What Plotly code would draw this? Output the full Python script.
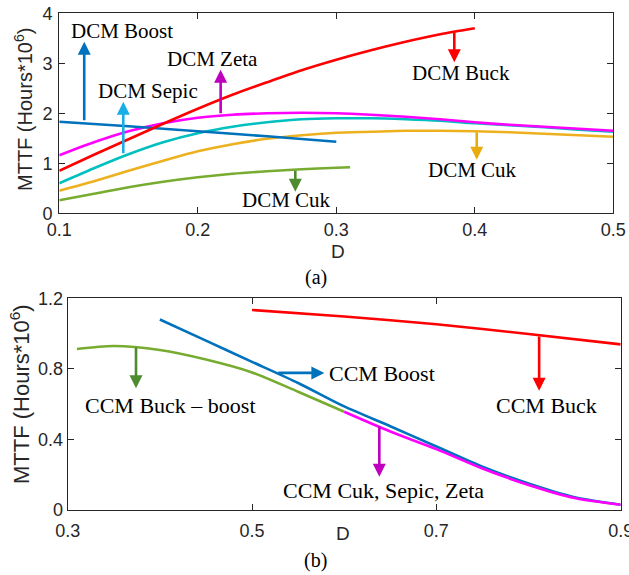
import plotly.graph_objects as go

# ---------------- Panel (a): DCM ----------------
dcm_buck_D = [0.1, 0.125, 0.15, 0.175, 0.2, 0.225, 0.25, 0.275, 0.3, 0.325, 0.35, 0.375, 0.4]
dcm_buck = [0.85, 1.17, 1.48, 1.79, 2.09, 2.37, 2.62, 2.86, 3.07, 3.26, 3.43, 3.58, 3.70]

dcm_boost_D = [0.1, 0.15, 0.2, 0.25, 0.3]
dcm_boost = [1.83, 1.74, 1.64, 1.54, 1.43]

dcm_grid_D = [0.1, 0.125, 0.15, 0.175, 0.2, 0.225, 0.25, 0.275, 0.3, 0.325, 0.35,
              0.375, 0.4, 0.425, 0.45, 0.475, 0.5]
dcm_zeta = [1.16, 1.42, 1.64, 1.80, 1.91, 1.97, 2.00, 2.01, 2.00, 1.97, 1.93,
            1.88, 1.82, 1.77, 1.73, 1.69, 1.65]
dcm_sepic = [0.60, 0.90, 1.18, 1.42, 1.60, 1.73, 1.82, 1.88, 1.90, 1.90, 1.88,
             1.85, 1.80, 1.76, 1.72, 1.67, 1.63]
dcm_cuk_o = [0.45, 0.64, 0.85, 1.05, 1.24, 1.38, 1.49, 1.56, 1.61, 1.63, 1.65,
             1.65, 1.64, 1.62, 1.59, 1.56, 1.53]

dcm_cuk_g_D = [0.1, 0.125, 0.15, 0.175, 0.2, 0.225, 0.25, 0.275, 0.3, 0.31]
dcm_cuk_g = [0.26, 0.39, 0.52, 0.63, 0.72, 0.79, 0.84, 0.88, 0.91, 0.92]

# ---------------- Panel (b): CCM ----------------
ccm_buck_D = [0.5, 0.6, 0.7, 0.8, 0.9]
ccm_buck = [1.134, 1.097, 1.053, 0.998, 0.939]

ccm_boost_D = [0.4, 0.45, 0.5, 0.55, 0.6, 0.65, 0.7, 0.75, 0.8, 0.85, 0.9]
ccm_boost = [1.08, 0.96, 0.84, 0.72, 0.587, 0.475, 0.36, 0.245, 0.15, 0.072, 0.03]

ccm_bb_D = [0.31, 0.35, 0.4, 0.45, 0.5, 0.55, 0.6]
ccm_bb = [0.913, 0.93, 0.907, 0.853, 0.78, 0.67, 0.557]

ccm_csz_D = [0.6, 0.65, 0.7, 0.75, 0.8, 0.85, 0.9]
ccm_csz = [0.557, 0.445, 0.345, 0.235, 0.142, 0.068, 0.03]

top_xticks = [0.1, 0.2, 0.3, 0.4, 0.5]
top_xlabels = ["0.1", "0.2", "0.3", "0.4", "0.5"]
top_yticks = [0, 1, 2, 3, 4]
bot_xticks = [0.3, 0.5, 0.7, 0.9]
bot_xlabels = ["0.3", "0.5", "0.7", "0.9"]
bot_yticks = [0, 0.4, 0.8, 1.2]
bot_ylabels = ["0", "0.4", "0.8", "1.2"]

RED = "#FF0000"
BLUE = "#0072BD"
PINK = "#FF00FF"
CYAN = "#00BFBF"
ORANGE = "#EDB120"
GREEN = "#77AC30"

fig = go.Figure()
LW = 2.6

def add(xs, ys, color, xa="x", ya="y"):
    fig.add_trace(go.Scatter(x=xs, y=ys, mode="lines",
                             line=dict(color=color, width=LW, shape="spline", smoothing=0.8),
                             xaxis=xa, yaxis=ya, showlegend=False, hoverinfo="skip"))

add(dcm_cuk_g_D, dcm_cuk_g, GREEN)
add(dcm_grid_D, dcm_cuk_o, ORANGE)
add(dcm_grid_D, dcm_sepic, CYAN)
add(dcm_grid_D, dcm_zeta, PINK)
add(dcm_boost_D, dcm_boost, BLUE)
add(dcm_buck_D, dcm_buck, RED)

add(ccm_buck_D, ccm_buck, RED, "x2", "y2")
add(ccm_bb_D, ccm_bb, GREEN, "x2", "y2")
add(ccm_boost_D, ccm_boost, BLUE, "x2", "y2")
add(ccm_csz_D, ccm_csz, PINK, "x2", "y2")

AX = "#262626"
TICKFONT = dict(family="Liberation Sans, Arial", size=18, color=AX)
common = dict(showgrid=False, zeroline=False, showline=True, linecolor=AX, linewidth=1.2,
              mirror="ticks", ticks="inside", ticklen=6, tickwidth=1, tickcolor=AX,
              tickfont=TICKFONT, automargin=False, ticklabeloverflow="allow")

fig.update_layout(
    template="none",
    width=629, height=575, margin=dict(l=0, r=0, t=0, b=0, pad=0),
    paper_bgcolor="white", plot_bgcolor="white",
    xaxis=dict(domain=[59.3 / 629, 613.3 / 629], range=[0.1, 0.5], tickvals=top_xticks,
               ticktext=top_xlabels, anchor="y", **common),
    yaxis=dict(domain=[1 - 213.3 / 575, 1 - 13.3 / 575], range=[0, 4], tickvals=top_yticks,
               anchor="x", ticklabelstandoff=2, **common),
    xaxis2=dict(domain=[67.7 / 629, 620.7 / 629], range=[0.3, 0.9], tickvals=bot_xticks,
                ticktext=bot_xlabels, anchor="y2", ticklabelstandoff=4, **common),
    yaxis2=dict(domain=[1 - 510 / 575, 1 - 298.3 / 575], range=[0, 1.2], tickvals=bot_yticks,
                ticktext=bot_ylabels, anchor="x2", **common),
)

SERIF = "Liberation Serif, Times New Roman"

def arrow(tip_x, tip_y, tail_x, tail_y, color, xr="x", yr="y"):
    fig.add_annotation(x=tip_x, y=tip_y, ax=tail_x, ay=tail_y, xref=xr, yref=yr, axref=xr, ayref=yr,
                       text="", showarrow=True, arrowhead=2, arrowsize=1, arrowwidth=2.6,
                       arrowcolor=color, standoff=0, startstandoff=0)

def label(x, y, text, size=21, xr="x", yr="y"):
    fig.add_annotation(x=x, y=y, xref=xr, yref=yr, text=text, showarrow=False,
                       font=dict(family=SERIF, size=size, color="black"),
                       xanchor="center", yanchor="middle")

# panel (a) arrows and labels
arrow(0.118, 3.43, 0.118, 1.83, BLUE)
label(0.1454, 3.65, "DCM Boost")
arrow(0.1462, 2.23, 0.1462, 1.17, "#1AAEE8")
label(0.1637, 2.44, "DCM Sepic")
arrow(0.2165, 2.87, 0.2165, 1.97, "#BF00BF")
label(0.2103, 3.09, "DCM Zeta")
arrow(0.3852, 3.02, 0.3852, 3.65, RED)
label(0.3899, 2.81, "DCM Buck")
arrow(0.4014, 1.07, 0.4014, 1.65, "#E8AC10")
label(0.398, 0.856, "DCM Cuk")
arrow(0.2704, 0.43, 0.2704, 0.88, "#4E8A2E")
label(0.2642, 0.27, "DCM Cuk")

# panel (b) arrows and labels
arrow(0.3741, 0.69, 0.3741, 0.93, "#4E8A2E", "x2", "y2")
label(0.4111, 0.595, "CCM Buck – boost", 22, "x2", "y2")
arrow(0.5785, 0.777, 0.5268, 0.777, BLUE, "x2", "y2")
label(0.6411, 0.771, "CCM Boost", 22, "x2", "y2")
arrow(0.8115, 0.676, 0.8115, 0.992, RED, "x2", "y2")
label(0.8198, 0.595, "CCM Buck", 22, "x2", "y2")
arrow(0.6381, 0.189, 0.6381, 0.482, "#BF00BF", "x2", "y2")
label(0.6422, 0.108, "CCM Cuk, Sepic, Zeta", 22, "x2", "y2")

# axis titles and panel captions
SANS = "Liberation Sans, Arial"
fig.add_annotation(x=23 / 629, y=1 - 110 / 575, xref="paper", yref="paper",
                   text="MTTF (Hours*10<sup>6</sup>)", textangle=-90, showarrow=False,
                   font=dict(family=SANS, size=20, color=AX), xanchor="center", yanchor="middle")
fig.add_annotation(x=20 / 629, y=1 - 394 / 575, xref="paper", yref="paper",
                   text="MTTF (Hours*10<sup>6</sup>)", textangle=-90, showarrow=False,
                   font=dict(family=SANS, size=22, color=AX), xanchor="center", yanchor="middle")
fig.add_annotation(x=338 / 629, y=1 - 251.7 / 575, xref="paper", yref="paper", text="D",
                   showarrow=False, font=dict(family=SANS, size=19, color=AX),
                   xanchor="center", yanchor="middle")
fig.add_annotation(x=343 / 629, y=1 - 533 / 575, xref="paper", yref="paper", text="D",
                   showarrow=False, font=dict(family=SANS, size=19, color=AX),
                   xanchor="center", yanchor="middle")
fig.add_annotation(x=316 / 629, y=1 - 277 / 575, xref="paper", yref="paper", text="(a)",
                   showarrow=False, font=dict(family=SERIF, size=20, color="black"),
                   xanchor="center", yanchor="middle")
fig.add_annotation(x=316 / 629, y=1 - 560 / 575, xref="paper", yref="paper", text="(b)",
                   showarrow=False, font=dict(family=SERIF, size=20, color="black"),
                   xanchor="center", yanchor="middle")

fig.write_html("out.html", config={"displayModeBar": False},
               post_script="document.body.style.margin='0';document.body.style.padding='0';")
